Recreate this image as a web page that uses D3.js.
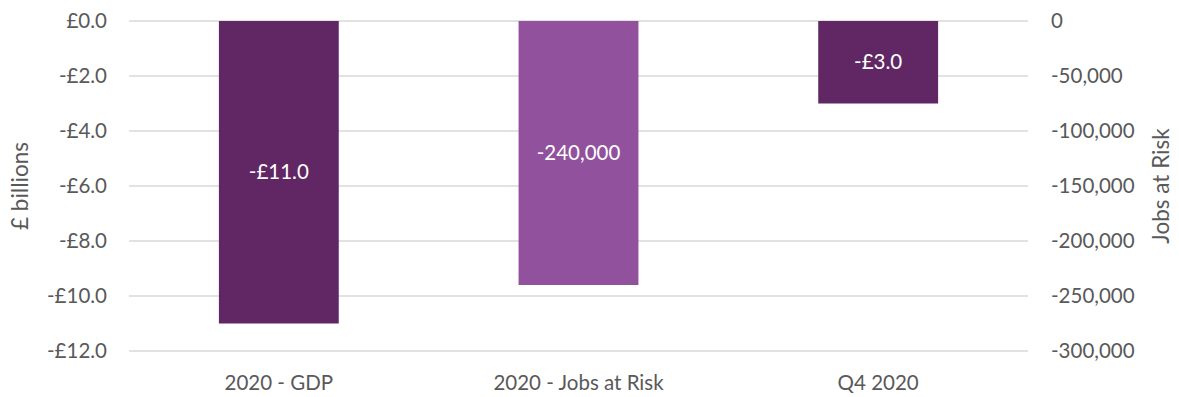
<!DOCTYPE html>
<html>
<head>
<meta charset="utf-8">
<script src="https://cdn.jsdelivr.net/npm/d3@7"></script>
<style>
  body { margin: 0; background: #fff; }
  svg text { font-family: Lato, "Open Sans", sans-serif; fill: #595959; }
</style>
</head>
<body>
<svg id="chart" width="1179" height="397"></svg>
<script>
// Categories along the x axis
const categories = ["2020 - GDP", "2020 - Jobs at Risk", "Q4 2020"];
// GDP impact, £ billions (left axis)
const gdpValues = [-11.0, null, -3.0];
// Jobs at risk (right axis)
const jobsValues = [null, -240000, null];
// Axis ticks
const leftTicks = [0, -2, -4, -6, -8, -10, -12];
const rightTicks = [0, -50000, -100000, -150000, -200000, -250000, -300000];

const FS = "20.5px";
const TITLE_FS = "22.5px";
const svg = d3.select("#chart");
const margin = { left: 129, right: 151, top: 21, bottom: 46 };
const W = 1179, H = 397;
const plotW = W - margin.left - margin.right;
const plotH = H - margin.top - margin.bottom;

const x = d3.scaleBand().domain(categories).range([0, plotW]).paddingInner(0.6).paddingOuter(0.3);
const yL = d3.scaleLinear().domain([0, -12]).range([0, plotH]);
const yR = d3.scaleLinear().domain([0, -300000]).range([0, plotH]);

const g = svg.append("g").attr("transform", `translate(${margin.left},${margin.top})`);

// Gridlines
g.append("g").selectAll("line").data(leftTicks).join("line")
  .attr("x1", 0).attr("x2", plotW)
  .attr("y1", d => yL(d)).attr("y2", d => yL(d))
  .attr("stroke", "#d9d9d9").attr("stroke-width", 1.3);

// Left axis
const leftAxis = g.append("g")
  .call(d3.axisLeft(yL).tickValues(leftTicks).tickSize(0).tickPadding(22)
    .tickFormat(d => (d < 0 ? "-£" : "£") + Math.abs(d).toFixed(1)));
leftAxis.select(".domain").remove();
leftAxis.selectAll("text").style("font-size", FS).attr("fill", "#595959");

// Right axis
const rightAxis = g.append("g").attr("transform", `translate(${plotW},0)`)
  .call(d3.axisRight(yR).tickValues(rightTicks).tickSize(0).tickPadding(23)
    .tickFormat(d => d3.format(",")(d).replace("−", "-")));
rightAxis.select(".domain").remove();
rightAxis.selectAll("text").style("font-size", FS).attr("fill", "#595959");

// Bottom category labels
const bottomAxis = g.append("g").attr("transform", `translate(0,${plotH})`)
  .call(d3.axisBottom(x).tickSize(0).tickPadding(24));
bottomAxis.select(".domain").remove();
bottomAxis.selectAll("text").style("font-size", FS).attr("fill", "#595959");

// Axis titles
svg.append("text").attr("transform", `translate(20,${margin.top + plotH / 2}) rotate(-90)`)
  .attr("text-anchor", "middle").attr("dy", "0.35em").style("font-size", TITLE_FS).text("£ billions");
svg.append("text").attr("transform", `translate(1161,${margin.top + plotH / 2}) rotate(-90)`)
  .attr("text-anchor", "middle").attr("dy", "0.35em").style("font-size", TITLE_FS).text("Jobs at Risk");

// GDP bars
const gdpData = categories.map((c, i) => ({ c, v: gdpValues[i] })).filter(d => d.v != null);
g.selectAll(".gdp").data(gdpData).join("rect").attr("class", "gdp")
  .attr("x", d => x(d.c)).attr("width", x.bandwidth())
  .attr("y", yL(0)).attr("height", d => yL(d.v) - yL(0))
  .attr("fill", "#612764");
g.selectAll(".gdpLabel").data(gdpData).join("text").attr("class", "gdpLabel")
  .attr("x", d => x(d.c) + x.bandwidth() / 2).attr("y", d => (yL(0) + yL(d.v)) / 2)
  .attr("text-anchor", "middle").attr("dy", "0.35em")
  .style("font-size", FS).style("fill", "#fff")
  .text(d => "-£" + Math.abs(d.v).toFixed(1));

// Jobs bars
const jobsData = categories.map((c, i) => ({ c, v: jobsValues[i] })).filter(d => d.v != null);
g.selectAll(".jobs").data(jobsData).join("rect").attr("class", "jobs")
  .attr("x", d => x(d.c)).attr("width", x.bandwidth())
  .attr("y", yR(0)).attr("height", d => yR(d.v) - yR(0))
  .attr("fill", "#91519c");
g.selectAll(".jobsLabel").data(jobsData).join("text").attr("class", "jobsLabel")
  .attr("x", d => x(d.c) + x.bandwidth() / 2).attr("y", d => (yR(0) + yR(d.v)) / 2)
  .attr("text-anchor", "middle").attr("dy", "0.35em")
  .style("font-size", FS).style("fill", "#fff")
  .text(d => "-" + d3.format(",")(Math.abs(d.v)));
</script>
</body>
</html>
